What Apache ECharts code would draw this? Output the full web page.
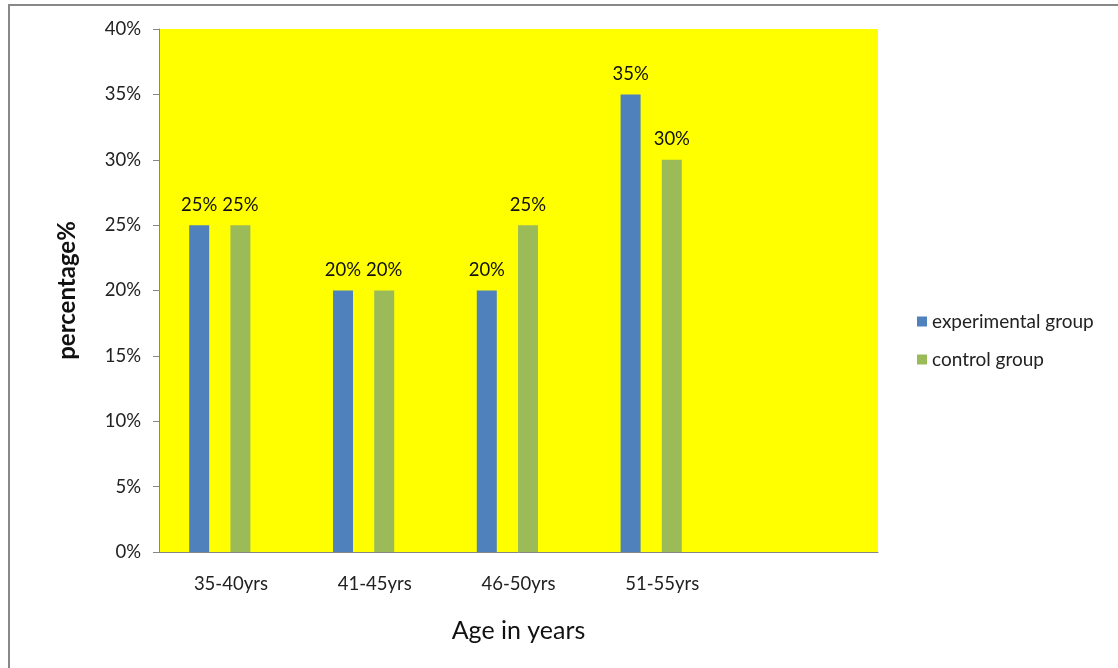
<!DOCTYPE html>
<html><head><meta charset="utf-8">
<script src="https://cdn.jsdelivr.net/npm/echarts@6/dist/echarts.min.js"></script>
<style>
html,body{margin:0;padding:0;background:#fff;}
#frame{position:absolute;left:8px;top:4px;width:1110px;height:664px;border-left:2px solid #888;border-top:2px solid #888;box-sizing:border-box;}
#c{position:absolute;left:0;top:0;width:1118px;height:668px;}
</style></head>
<body>
<div id="frame"></div>
<div id="c"></div>
<script>
const categories = ['35-40yrs', '41-45yrs', '46-50yrs', '51-55yrs', ''];
const experimental = [25, 20, 20, 35, null];
const control = [25, 20, 25, 30, null];
const spacer = [null, null, null, null, null];
const yTicks = [0, 5, 10, 15, 20, 25, 30, 35, 40];

const FONT = 'Lato';
const chart = echarts.init(document.getElementById('c'), null, {renderer: 'canvas'});
const labelCfg = {show: true, position: 'top', distance: 11, formatter: p => p.value + '%', color: '#111', fontSize: 18.5, fontFamily: FONT};
chart.setOption({
  animation: false,
  textStyle: {fontFamily: FONT},
  grid: {left: 159, top: 29, right: 240, bottom: 116, show: true, backgroundColor: '#ffff00', borderWidth: 0},
  legend: {
    orient: 'vertical', left: 917, top: 312, padding: 0, itemWidth: 10, itemHeight: 10, itemGap: 19, itemTextGap: 6,
    data: ['experimental group', 'control group'],
    textStyle: {fontSize: 19, color: '#222', fontFamily: FONT}, icon: 'rect'
  },
  xAxis: {
    type: 'category', data: categories,
    axisLine: {lineStyle: {color: '#868686', width: 1}},
    axisTick: {show: false},
    axisLabel: {color: '#222', fontSize: 18.5, margin: 23, fontFamily: FONT},
    name: 'Age in years', nameLocation: 'middle', nameGap: 66,
    nameTextStyle: {fontSize: 25, color: '#111', fontFamily: FONT}
  },
  yAxis: {
    type: 'value', min: yTicks[0], max: yTicks[yTicks.length - 1], interval: 5,
    axisLine: {show: true, lineStyle: {color: '#868686', width: 1}},
    axisTick: {show: true, length: 6, lineStyle: {color: '#868686'}},
    splitLine: {show: false},
    axisLabel: {color: '#222', fontSize: 18.5, margin: 18, formatter: v => v + '%', fontFamily: FONT},
    name: 'percentage%', nameLocation: 'middle', nameGap: 80,
    nameTextStyle: {fontSize: 24, fontWeight: 'bold', color: '#111', fontFamily: FONT}
  },
  series: [
    {name: 'experimental group', type: 'bar', data: experimental, barWidth: 20, barGap: '106%', itemStyle: {color: '#4f81bd'}, label: labelCfg},
    {name: 'control group', type: 'bar', data: control, barWidth: 20, barGap: '106%', itemStyle: {color: '#9bbb59'}, label: labelCfg},
    {name: 'spacer', type: 'bar', data: spacer, barWidth: 0.1, barGap: '106%', itemStyle: {color: 'transparent'}}
  ]
});
</script>
</body></html>
